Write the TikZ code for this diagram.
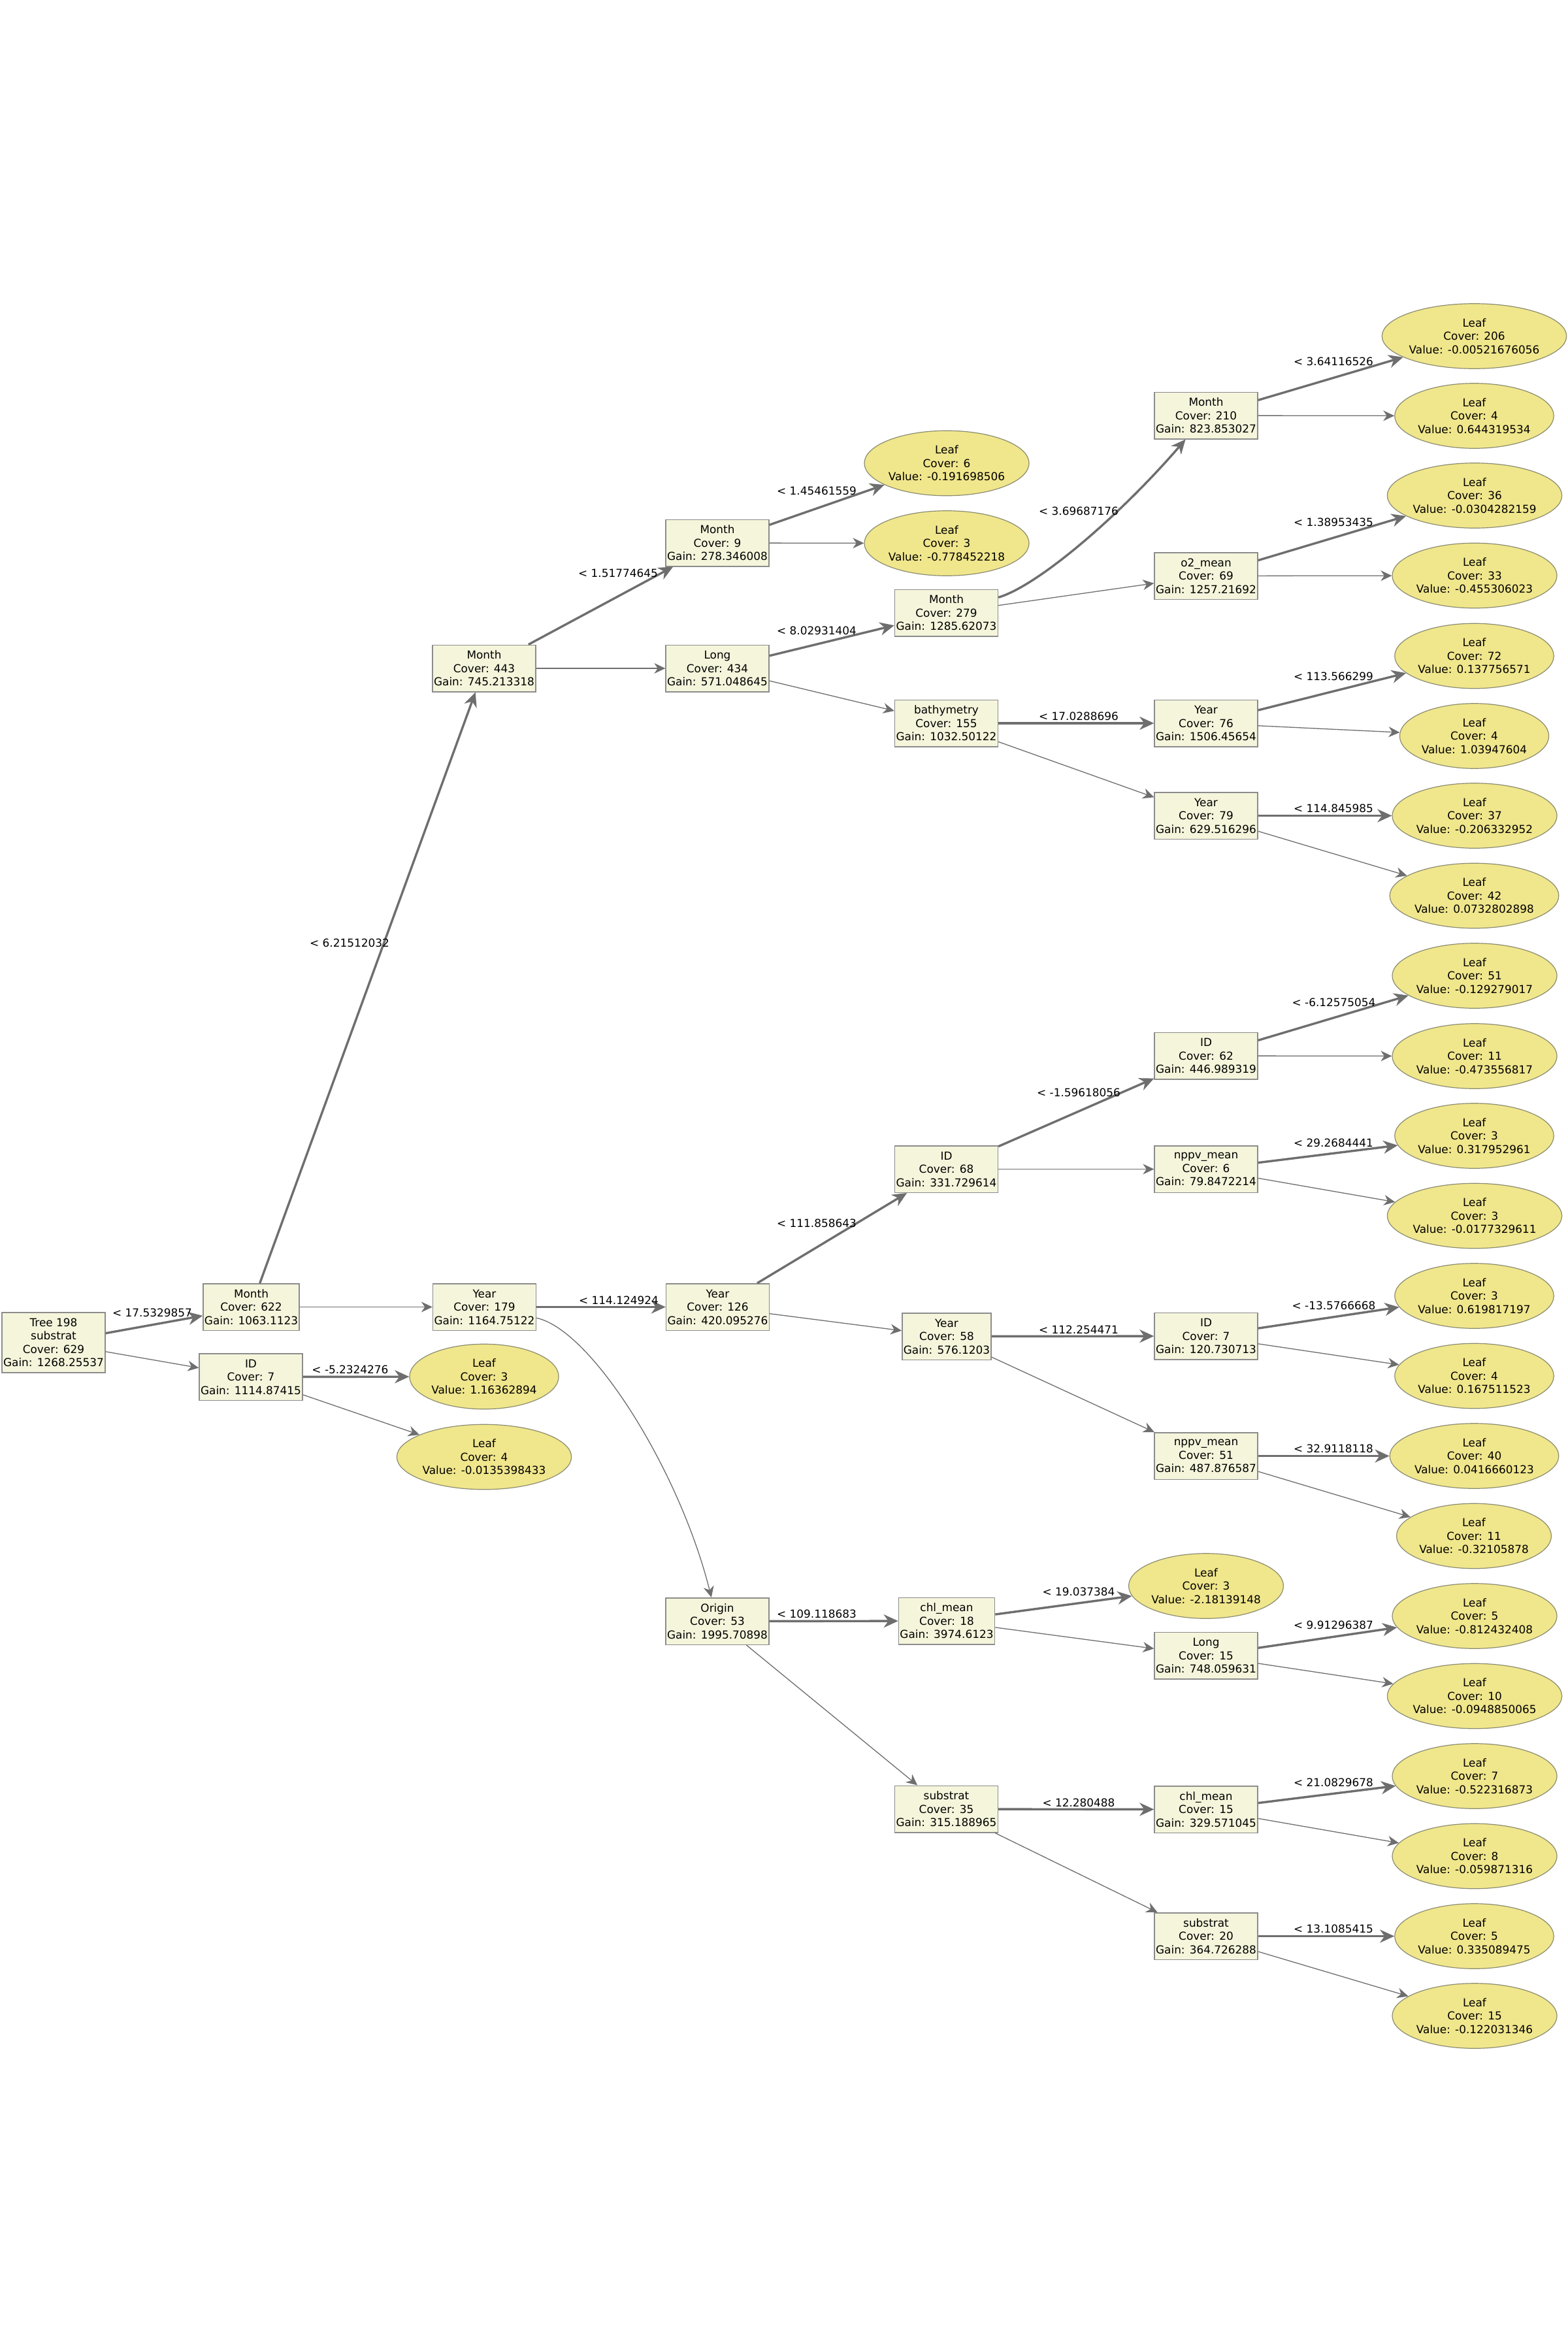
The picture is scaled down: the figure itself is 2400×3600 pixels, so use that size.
\documentclass[tikz,border=0pt]{standalone}
\usepackage{fontspec}
\setmainfont{DejaVu Sans}
\usetikzlibrary{shapes.geometric,arrows.meta}
\definecolor{boxfill}{HTML}{F5F5DC}
\definecolor{leaffill}{HTML}{F0E68C}
\definecolor{boxline}{HTML}{8C8C8C}
\definecolor{leafline}{HTML}{8C8C70}
\definecolor{edgecol}{HTML}{6E6E6E}
\newcommand\treefont{\fontsize{16.9}{20.5}\selectfont}
\begin{document}
\begin{tikzpicture}[x=1pt,y=-1pt,
  split/.style={rectangle, draw=boxline, fill=boxfill, line width=1.5pt, align=center,
    inner xsep=2pt, inner ysep=0pt, minimum height=71.5pt, font=\treefont},
  leaf/.style={ellipse, draw=leafline, fill=leaffill, line width=1.2pt, align=center,
    inner sep=0pt, minimum height=99.5pt, font=\treefont},
  yes/.style={draw=edgecol, line width=3.4pt, -{Stealth[length=22pt,width=20pt,inset=7pt]}},
  no/.style={draw=edgecol, line width=1.3pt, -{Stealth[length=17pt,width=16pt,inset=5.5pt]}},
  lbl/.style={inner sep=0pt, font=\treefont}]
\path[use as bounding box, fill=white] (0,0) rectangle (2400,3600);

% ---- split nodes ----
\node[split, minimum height=92pt] (root) at (82,2055) {Tree 198\\substrat\\Cover: 629\\Gain: 1268.25537};
\node[split] (m622) at (384.5,2000.5) {Month\\Cover: 622\\Gain: 1063.1123};
\node[split] (id7) at (384,2107.5) {ID\\Cover: 7\\Gain: 1114.87415};
\node[split] (y179) at (741.5,2000.5) {Year\\Cover: 179\\Gain: 1164.75122};
\node[split] (m443) at (741,1023) {Month\\Cover: 443\\Gain: 745.213318};
\node[split] (y126) at (1098.5,2000.5) {Year\\Cover: 126\\Gain: 420.095276};
\node[split] (or53) at (1098,2481.5) {Origin\\Cover: 53\\Gain: 1995.70898};
\node[split] (m9) at (1098,831) {Month\\Cover: 9\\Gain: 278.346008};
\node[split] (lo434) at (1098,1023) {Long\\Cover: 434\\Gain: 571.048645};
\node[split] (m279) at (1448.5,938) {Month\\Cover: 279\\Gain: 1285.62073};
\node[split] (ba155) at (1448.5,1107) {bathymetry\\Cover: 155\\Gain: 1032.50122};
\node[split] (id68) at (1448.5,1789.5) {ID\\Cover: 68\\Gain: 331.729614};
\node[split] (y58) at (1449,2045.5) {Year\\Cover: 58\\Gain: 576.1203};
\node[split] (chl18) at (1449,2481) {chl\_mean\\Cover: 18\\Gain: 3974.6123};
\node[split] (su35) at (1448.5,2769) {substrat\\Cover: 35\\Gain: 315.188965};
\node[split] (m210) at (1846,636) {Month\\Cover: 210\\Gain: 823.853027};
\node[split] (o2) at (1846,881.5) {o2\_mean\\Cover: 69\\Gain: 1257.21692};
\node[split] (y76) at (1846,1107) {Year\\Cover: 76\\Gain: 1506.45654};
\node[split] (y79) at (1846,1248.5) {Year\\Cover: 79\\Gain: 629.516296};
\node[split] (id62) at (1846,1616) {ID\\Cover: 62\\Gain: 446.989319};
\node[split] (np6) at (1846,1789.5) {nppv\_mean\\Cover: 6\\Gain: 79.8472214};
\node[split] (id7r) at (1846,2045) {ID\\Cover: 7\\Gain: 120.730713};
\node[split] (np51) at (1846,2228.5) {nppv\_mean\\Cover: 51\\Gain: 487.876587};
\node[split] (lo15) at (1846,2534) {Long\\Cover: 15\\Gain: 748.059631};
\node[split] (chl15) at (1846,2769.5) {chl\_mean\\Cover: 15\\Gain: 329.571045};
\node[split] (su20) at (1846,2963.5) {substrat\\Cover: 20\\Gain: 364.726288};

% ---- leaves ----
\node[leaf] (lfA) at (741,2107) {Leaf\\Cover: 3\\Value: 1.16362894};
\node[leaf] (lfB) at (741,2230) {Leaf\\Cover: 4\\Value: -0.0135398433};
\node[leaf] (lfC) at (1449,709) {Leaf\\Cover: 6\\Value: -0.191698506};
\node[leaf] (lfD) at (1449,831.5) {Leaf\\Cover: 3\\Value: -0.778452218};
\node[leaf] (lfE) at (1846,2427.5) {Leaf\\Cover: 3\\Value: -2.18139148};
\node[leaf] (lf1) at (2256.5,514.5) {Leaf\\Cover: 206\\Value: -0.00521676056};
\node[leaf] (lf2) at (2256.5,636.5) {Leaf\\Cover: 4\\Value: 0.644319534};
\node[leaf] (lf3) at (2257,758.5) {Leaf\\Cover: 36\\Value: -0.0304282159};
\node[leaf] (lf4) at (2257,881) {Leaf\\Cover: 33\\Value: -0.455306023};
\node[leaf] (lf5) at (2256.5,1004) {Leaf\\Cover: 72\\Value: 0.137756571};
\node[leaf] (lf6) at (2256.5,1126.5) {Leaf\\Cover: 4\\Value: 1.03947604};
\node[leaf] (lf7) at (2257,1248.5) {Leaf\\Cover: 37\\Value: -0.206332952};
\node[leaf] (lf8) at (2256.5,1371) {Leaf\\Cover: 42\\Value: 0.0732802898};
\node[leaf] (lf9) at (2257,1493.5) {Leaf\\Cover: 51\\Value: -0.129279017};
\node[leaf] (lf10) at (2257,1616.5) {Leaf\\Cover: 11\\Value: -0.473556817};
\node[leaf] (lf11) at (2256.5,1738.5) {Leaf\\Cover: 3\\Value: 0.317952961};
\node[leaf] (lf12) at (2257,1861) {Leaf\\Cover: 3\\Value: -0.0177329611};
\node[leaf] (lf13) at (2256.5,1983.5) {Leaf\\Cover: 3\\Value: 0.619817197};
\node[leaf] (lf14) at (2256.5,2106) {Leaf\\Cover: 4\\Value: 0.167511523};
\node[leaf] (lf15) at (2256.5,2228.5) {Leaf\\Cover: 40\\Value: 0.0416660123};
\node[leaf] (lf16) at (2256,2351) {Leaf\\Cover: 11\\Value: -0.32105878};
\node[leaf] (lf17) at (2257,2473.5) {Leaf\\Cover: 5\\Value: -0.812432408};
\node[leaf] (lf18) at (2257,2596) {Leaf\\Cover: 10\\Value: -0.0948850065};
\node[leaf] (lf19) at (2257,2718.5) {Leaf\\Cover: 7\\Value: -0.522316873};
\node[leaf] (lf20) at (2257,2841) {Leaf\\Cover: 8\\Value: -0.059871316};
\node[leaf] (lf21) at (2256.5,2963.5) {Leaf\\Cover: 5\\Value: 0.335089475};
\node[leaf] (lf22) at (2257,3085.5) {Leaf\\Cover: 15\\Value: -0.122031346};

% ---- connectors ----
\draw[yes] (root) -- (m622);
\draw[no] (root) -- (id7);
\draw[yes] (m622) -- (m443);
\draw[no] (m622) -- (y179);
\draw[yes] (id7) -- (lfA);
\draw[no] (id7) -- (lfB);
\draw[yes] (y179) -- (y126);
\draw[no] (y179) .. controls (905,2035) and (1040,2250) .. (or53);
\draw[yes] (m443) -- (m9);
\draw[no] (m443) -- (lo434);
\draw[yes] (y126) -- (id68);
\draw[no] (y126) -- (y58);
\draw[yes] (or53) -- (chl18);
\draw[no] (or53) -- (su35);
\draw[yes] (m9) -- (lfC);
\draw[no] (m9) -- (lfD);
\draw[yes] (lo434) -- (m279);
\draw[no] (lo434) -- (ba155);
\draw[yes] (m279) .. controls (1590,896) and (1716,787) .. (m210);
\draw[no] (m279) -- (o2);
\draw[yes] (ba155) -- (y76);
\draw[no] (ba155) -- (y79);
\draw[yes] (id68) -- (id62);
\draw[no] (id68) -- (np6);
\draw[yes] (y58) -- (id7r);
\draw[no] (y58) -- (np51);
\draw[yes] (chl18) -- (lfE);
\draw[no] (chl18) -- (lo15);
\draw[yes] (su35) -- (chl15);
\draw[no] (su35) -- (su20);
\draw[yes] (m210) -- (lf1);
\draw[no] (m210) -- (lf2);
\draw[yes] (o2) -- (lf3);
\draw[no] (o2) -- (lf4);
\draw[yes] (y76) -- (lf5);
\draw[no] (y76) -- (lf6);
\draw[yes] (y79) -- (lf7);
\draw[no] (y79) -- (lf8);
\draw[yes] (id62) -- (lf9);
\draw[no] (id62) -- (lf10);
\draw[yes] (np6) -- (lf11);
\draw[no] (np6) -- (lf12);
\draw[yes] (id7r) -- (lf13);
\draw[no] (id7r) -- (lf14);
\draw[yes] (np51) -- (lf15);
\draw[no] (np51) -- (lf16);
\draw[yes] (lo15) -- (lf17);
\draw[no] (lo15) -- (lf18);
\draw[yes] (chl15) -- (lf19);
\draw[no] (chl15) -- (lf20);
\draw[yes] (su20) -- (lf21);
\draw[no] (su20) -- (lf22);

% ---- split thresholds ----
\node[lbl] (t1) at (233,2009) {< 17.5329857};
\node[lbl] (t2) at (536,2096) {< -5.2324276};
\node[lbl] (t3) at (535,1443) {< 6.21512032};
\node[lbl] (t4) at (947,1990) {< 114.124924};
\node[lbl] (t5) at (1250,1872) {< 111.858643};
\node[lbl] (t6) at (1250,2470) {< 109.118683};
\node[lbl] (t7) at (946,877) {< 1.51774645};
\node[lbl] (t8) at (1250,751) {< 1.45461559};
\node[lbl] (t9) at (1250,965) {< 8.02931404};
\node[lbl] (t10) at (1651,782) {< 3.69687176};
\node[lbl] (t11) at (1651,1096) {< 17.0288696};
\node[lbl] (t12) at (2041,553) {< 3.64116526};
\node[lbl] (t13) at (2041,799) {< 1.38953435};
\node[lbl] (t14) at (2041,1035) {< 113.566299};
\node[lbl] (t15) at (2041,1237) {< 114.845985};
\node[lbl] (t16) at (1651,1672) {< -1.59618056};
\node[lbl] (t17) at (2041.5,1534) {< -6.12575054};
\node[lbl] (t18) at (2041,1749) {< 29.2684441};
\node[lbl] (t19) at (1651,2035) {< 112.254471};
\node[lbl] (t20) at (2041.5,1998) {< -13.5766668};
\node[lbl] (t21) at (2041,2217) {< 32.9118118};
\node[lbl] (t22) at (1651,2436) {< 19.037384};
\node[lbl] (t23) at (2041,2487) {< 9.91296387};
\node[lbl] (t24) at (1651,2759) {< 12.280488};
\node[lbl] (t25) at (2041,2728) {< 21.0829678};
\node[lbl] (t26) at (2041,2952) {< 13.1085415};
\end{tikzpicture}
\end{document}
